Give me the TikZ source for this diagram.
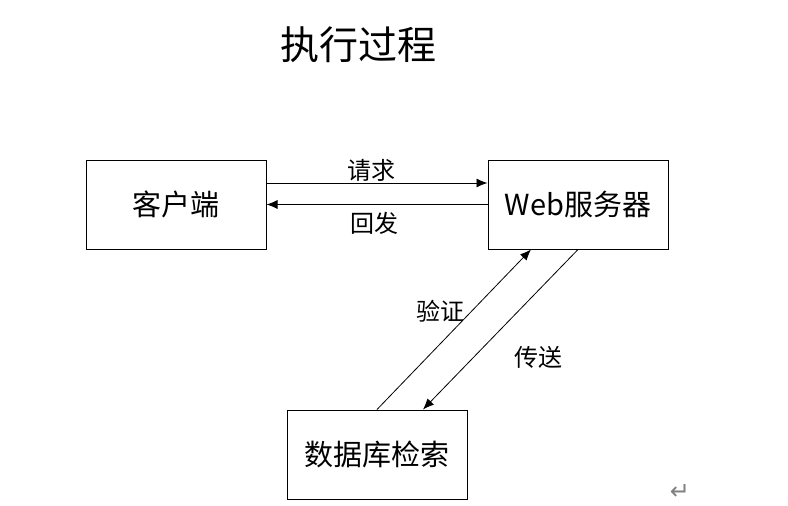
\documentclass[tikz,border=0pt]{standalone}
\usepackage{fontspec}
\setmainfont{Noto Sans CJK SC}
\newfontfamily\symfont{DejaVu Sans}
\usetikzlibrary{calc}
\usetikzlibrary{arrows.meta}
\newcommand{\BoxW}{180pt}
\newcommand{\BoxH}{89pt}
\tikzset{Box/.style={
    inner sep=0pt,
    minimum width=\BoxW,
    minimum height=\BoxH,
    draw=black,
    line width=1pt,
    align=center,
    font=\fontsize{29}{31}\selectfont,
    }
}
\begin{document}
\begin{tikzpicture}[x=1pt, y=-1pt, line width=0.8pt,
    flow/.style={-{Latex[length=11pt,width=9pt]}, draw=black},
    lbl/.style={inner sep=0pt, font=\fontsize{24}{26}\selectfont},
]
\useasboundingbox (0,0) rectangle (788,506);
% title
\node [inner sep=0pt, font=\fontsize{39}{41}\selectfont] (title) at (358,45) {执行过程};
% boxes
\node [Box] (client) at (176,204.5) {客户端};
\node [Box] (web) at (578,204.5) {Web服务器};
\node [Box] (db) at (377,454.5) {数据库检索};
% client <-> web
\draw [flow] ([yshift=21.5pt]client.east) -- ([yshift=21.5pt]web.west);
\draw [flow] (web.west) -- (client.east);
\node [lbl] (req) at (371,170) {请求};
\node [lbl] (resp) at (374,223) {回发};
% web <-> db
\draw [flow] (db.north) -- ([xshift=-47pt]web.south);
\draw [flow] (web.south) -- ([xshift=46pt]db.north);
\node [lbl] (check) at (440,311) {验证};
\node [lbl] (send) at (538,357) {传送};
% paragraph mark
\node [inner sep=0pt, text=gray, font=\symfont\fontsize{24}{26}\selectfont] (mark) at (680,492) {↵};
\end{tikzpicture}
\end{document}
